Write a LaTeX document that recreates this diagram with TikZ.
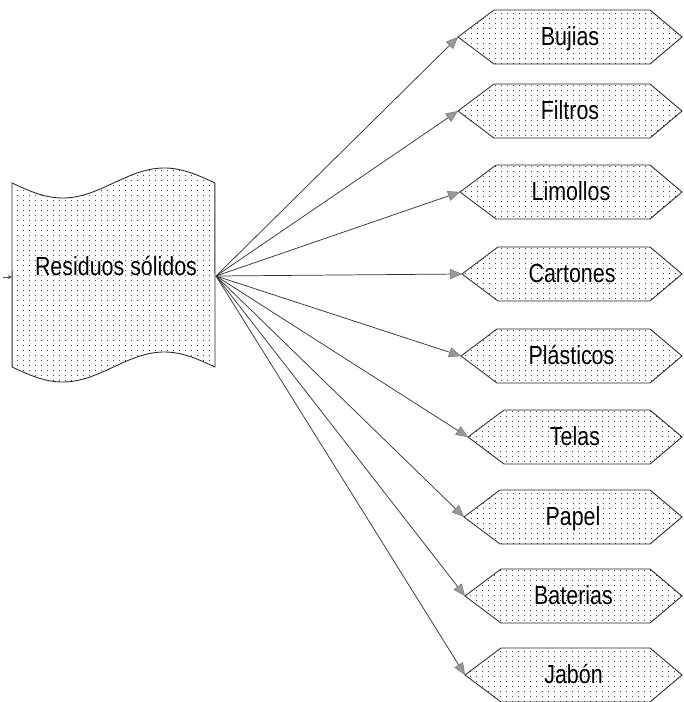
\documentclass[tikz,border=0pt]{standalone}
\usepackage{fontspec}
\setmainfont[FakeStretch=0.82]{Liberation Sans}
\usetikzlibrary{arrows.meta,patterns.meta}
\tikzdeclarepattern{
  name=sparsedots,
  type=uncolored,
  bounding box={(0pt,0pt) and (4.2pt,3.6pt)},
  tile size={(4.2pt,3.6pt)},
  code={\fill (0pt,0pt) rectangle (0.75pt,0.75pt);}
}
\newcommand\hexitem[4]{%
  \draw[shapefill] (#2,#3) -- (#2+36,#3-27) -- (650,#3-27) -- (682,#3)
    -- (650,#3+27) -- (#2+36,#3+27) -- cycle;
  \coordinate (#1) at (#2,#3);
  \node[lbl] (#1-lbl) at ({(#2+682)/2},#3+8.5) {#4};
}
\begin{document}
\begin{tikzpicture}[x=0.75pt,y=-0.75pt,
  shapefill/.style={draw=black!85, line width=0.65pt, pattern=sparsedots, pattern color=black!75},
  lbl/.style={font=\fontsize{19.6pt}{23pt}\selectfont, inner sep=0pt, anchor=base},
  link/.style={draw=black!80, line width=0.55pt,
    -{Triangle[length=9pt,width=7.5pt,fill=black!40,color=black!55,line width=0.4pt]}},
  smalllink/.style={draw=black!70, line width=0.5pt, -{Stealth[length=3pt,width=3pt]}}]
\useasboundingbox (0,0) rectangle (683,702);
% document (punched tape) shape
\draw[shapefill] plot[domain=0:1,samples=80] ({12+203*\x},{183+15*sin(360*\x)})
  -- plot[domain=1:0,samples=80] ({12+203*\x},{367+15*sin(360*\x)}) -- cycle;
\node[lbl] (doc) at (116,275.5) {Residuos sólidos};
\coordinate (docE) at (216,276);
\coordinate (docW) at (12,277);
\coordinate (inL) at (3,277);
\draw[smalllink] (inL) -- (docW);
% hexagons
\hexitem{bujias}{458}{37}{Bujias}
\hexitem{filtros}{458}{111}{Filtros}
\hexitem{limollos}{460}{192}{Limollos}
\hexitem{cartones}{462}{274}{Cartones}
\hexitem{plasticos}{461}{356}{Plásticos}
\hexitem{telas}{468}{437}{Telas}
\hexitem{papel}{464}{517}{Papel}
\hexitem{baterias}{465}{596}{Baterias}
\hexitem{jabon}{465}{675}{Jabón}
\foreach \n in {bujias,filtros,limollos,cartones,plasticos,telas,papel,baterias,jabon}
  \draw[link] (docE) -- (\n);
\end{tikzpicture}
\end{document}
